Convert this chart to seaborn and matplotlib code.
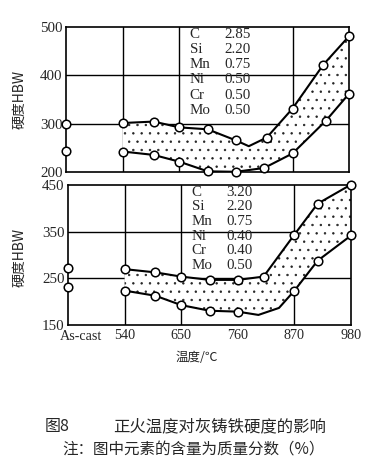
import numpy as np
import matplotlib.pyplot as plt
import matplotlib.transforms as mtransforms
import seaborn as sns

# -------------------------------
# Data
# -------------------------------
tick_temps = [430, 540, 650, 760, 870, 980]   # 430 stands for the As-cast column
tick_labels = ["As-cast", "540", "650", "760", "870", "980"]

# upper panel: C 2.85
top_cast = [300, 243]
top_up_t = [540, 600, 650, 705, 760, 785, 820, 870, 930, 980]
top_up_h = [301, 304, 292, 288, 265, 253, 271, 331, 422, 481]
top_up_mark = [1, 1, 1, 1, 1, 0, 1, 1, 1, 1]
top_lo_t = [540, 600, 650, 705, 760, 815, 870, 935, 980]
top_lo_h = [242, 235, 221, 201, 200, 208, 238, 306, 362]
top_lo_mark = [1, 1, 1, 1, 1, 1, 1, 1, 1]
top_elems = ["C", "Si", "Mn", "Ni", "Cr", "Mo"]
top_vals = ["2.85", "2.20", "0.75", "0.50", "0.50", "0.50"]
top_yticks = [200, 300, 400, 500]

# lower panel: C 3.20
bot_cast = [272, 231]
bot_up_t = [540, 600, 650, 705, 760, 810, 870, 915, 980]
bot_up_h = [270, 263, 254, 247, 247, 254, 344, 410, 451]
bot_up_mark = [1, 1, 1, 1, 1, 1, 1, 1, 1]
bot_lo_t = [540, 600, 650, 705, 760, 800, 840, 870, 915, 980]
bot_lo_h = [224, 213, 193, 181, 179, 172, 187, 224, 288, 342]
bot_lo_mark = [1, 1, 1, 1, 1, 0, 0, 1, 1, 1]
bot_elems = ["C", "Si", "Mn", "Ni", "Cr", "Mo"]
bot_vals = ["3.20", "2.20", "0.75", "0.40", "0.40", "0.50"]
bot_yticks = [150, 250, 350, 450]

sns.set_style("white")
plt.rcParams["font.family"] = ["Liberation Serif", "Noto Sans CJK SC"]
plt.rcParams["hatch.linewidth"] = 0.5
cjk = ["Noto Sans CJK SC", "DejaVu Sans"]

fig = plt.figure(figsize=(3.82, 4.72), dpi=100)
ax1 = fig.add_axes([0.173, 0.636, 0.741, 0.307])
ax2 = fig.add_axes([0.178, 0.311, 0.741, 0.297])


def draw_panel(ax, cast, up_t, up_h, up_m, lo_t, lo_h, lo_m, elems, vals, yticks, grid_y):
    ax.set_xlim(430, 980)
    ax.set_ylim(yticks[0], yticks[-1])
    for gy in grid_y:
        ax.axhline(gy, color="black", lw=1.0, zorder=1)
    for gx in [540, 650, 870]:
        ax.axvline(gx, color="black", lw=1.0, zorder=1)

    # stippled band between the two curves
    xf = np.linspace(540, 980, 200)
    ax.fill_between(xf, np.interp(xf, lo_t, lo_h), np.interp(xf, up_t, up_h),
                    facecolor="white", edgecolor="#222222", hatch="..", lw=0, zorder=2)

    for t, h, m in [(up_t, up_h, up_m), (lo_t, lo_h, lo_m)]:
        sns.lineplot(x=t, y=h, ax=ax, color="black", lw=1.5, sort=False, zorder=3)
        t = np.array(t)[np.array(m) == 1]
        h = np.array(h)[np.array(m) == 1]
        sns.scatterplot(x=t, y=h, ax=ax, s=38, facecolor="white", edgecolor="black",
                        linewidth=1.1, zorder=5, clip_on=False)
    sns.scatterplot(x=[430] * len(cast), y=cast, ax=ax, s=38, facecolor="white",
                    edgecolor="black", linewidth=1.1, zorder=5, clip_on=False)

    for i, (e, v) in enumerate(zip(elems, vals)):
        yy = 0.95 - i * 0.105
        ax.text(0.437, yy, e, transform=ax.transAxes, fontsize=10.8, va="center")
        ax.text(0.56, yy, v, transform=ax.transAxes, fontsize=10.8, va="center")

    ax.set_yticks(yticks)
    ax.set_yticklabels([str(y) for y in yticks], fontsize=10.8)
    ax.tick_params(length=0, pad=2.5)
    for s in ax.spines.values():
        s.set_visible(True)
        s.set_color("black")
        s.set_linewidth(1.2)


draw_panel(ax1, top_cast, top_up_t, top_up_h, top_up_mark, top_lo_t, top_lo_h,
           top_lo_mark, top_elems, top_vals, top_yticks, [300, 400])
ax1.set_xticks(tick_temps)
ax1.set_xticklabels([])

draw_panel(ax2, bot_cast, bot_up_t, bot_up_h, bot_up_mark, bot_lo_t, bot_lo_h,
           bot_lo_mark, bot_elems, bot_vals, bot_yticks, [250, 350])
ax2.set_xticks(tick_temps)
ax2.set_xticklabels(tick_labels, fontsize=10.2)
ax2.tick_params(axis="x", pad=2.5)
# "As-cast" sits a little right of its column in the original
first = ax2.get_xticklabels()[0]
first.set_horizontalalignment("left")
first.set_transform(first.get_transform() +
                    mtransforms.ScaledTranslation(-0.08, -0.01, fig.dpi_scale_trans))

fig.text(0.052, 0.79, "硬度HBW", rotation=90, ha="center", va="center",
         fontsize=10, family=cjk)
fig.text(0.052, 0.455, "硬度HBW", rotation=90, ha="center", va="center",
         fontsize=10, family=cjk)
fig.text(0.516, 0.243, "温度/℃", ha="center", va="center", fontsize=9, family=cjk)

fig.text(0.118, 0.096, "图8", ha="left", va="center", fontsize=11.5, family=cjk)
fig.text(0.296, 0.096, "正火温度对灰铸铁硬度的影响", ha="left", va="center",
         fontsize=11.8, family=cjk)
fig.text(0.162, 0.047, "注：图中元素的含量为质量分数（%）", ha="left", va="center",
         fontsize=11.2, family=cjk)

fig.savefig("out.png", dpi=100, facecolor="white")
